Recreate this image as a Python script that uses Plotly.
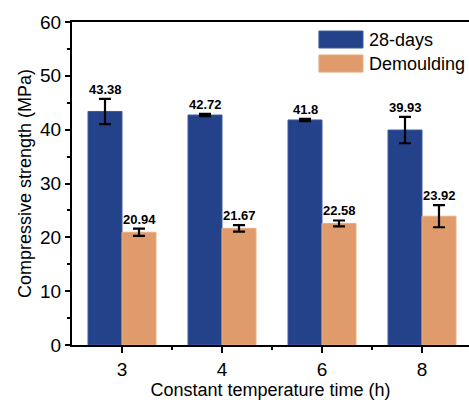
import plotly.graph_objects as go

# Constant temperature time (h)
categories = ["3", "4", "6", "8"]

# Compressive strength (MPa) and standard deviations
strength_28d = [43.38, 42.72, 41.8, 39.93]
error_28d = [2.35, 0.2, 0.2, 2.45]
strength_demould = [20.94, 21.67, 22.58, 23.92]
error_demould = [0.68, 0.6, 0.55, 2.05]

series_names = ["28-days", "Demoulding"]
colors = ["#244289", "#DF9B6B"]
edge_colors = ["#3C5AA0", "#E8AD82"]

FONT = "Arial, Liberation Sans, sans-serif"
xpos = list(range(len(categories)))

fig = go.Figure()
for name, vals, errs, col, edge in [
    (series_names[0], strength_28d, error_28d, colors[0], edge_colors[0]),
    (series_names[1], strength_demould, error_demould, colors[1], edge_colors[1]),
]:
    fig.add_trace(go.Bar(
        x=xpos, y=vals, name=name,
        marker=dict(color=col, line=dict(color=edge, width=1)),
        error_y=dict(type="data", array=errs, visible=True,
                     color="black", thickness=2.2, width=6),
        showlegend=False,
    ))

# Value labels above each error bar
annotations = []
offsets = [-0.17, 0.17]
for k, (vals, errs) in enumerate([(strength_28d, error_28d),
                                   (strength_demould, error_demould)]):
    for i, (v, e) in enumerate(zip(vals, errs)):
        annotations.append(dict(
            x=xpos[i] + offsets[k], y=v + e, xref="x", yref="y",
            text=f"<b>{v:g}</b>", showarrow=False, yanchor="bottom",
            xanchor="center", yshift=0,
            font=dict(family=FONT, size=13, color="black"),
        ))

# Legend drawn as large swatches with labels
legend_rows = [(0.972, 0.9195), (0.898, 0.845)]
shapes = []
for (y1, y0), col, edge, name in zip(legend_rows, colors, edge_colors, series_names):
    shapes.append(dict(type="rect", xref="paper", yref="paper",
                       x0=0.622, x1=0.733, y0=y0, y1=y1,
                       fillcolor=col, line=dict(color=edge, width=1)))
    annotations.append(dict(x=0.743, y=(y0 + y1) / 2, xref="paper", yref="paper",
                            text=name, showarrow=False, xanchor="left",
                            yanchor="middle",
                            font=dict(family=FONT, size=18, color="black")))

fig.update_layout(
    width=469, height=400,
    margin=dict(l=72, r=0, t=22, b=55),
    paper_bgcolor="white", plot_bgcolor="white",
    barmode="group", bargap=0.32, bargroupgap=0,
    font=dict(family=FONT, color="black"),
    shapes=shapes, annotations=annotations,
    xaxis=dict(
        range=[-0.5, 3.47],
        tickmode="array", tickvals=xpos, ticktext=categories,
        showline=True, linecolor="black", linewidth=2, mirror=True,
        ticks="outside", ticklen=6, tickwidth=2, tickcolor="black",
        minor=dict(tickmode="array", tickvals=[x + 0.5 for x in xpos[:-1]],
                   ticks="outside", ticklen=3, tickwidth=2, tickcolor="black"),
        showgrid=False, zeroline=False,
        tickfont=dict(family=FONT, size=19, color="black"),
        title=dict(text="Constant temperature time (h)",
                   font=dict(family=FONT, size=18, color="black"), standoff=2),
    ),
    yaxis=dict(
        range=[0, 60], dtick=10, tick0=0,
        showline=True, linecolor="black", linewidth=2,
        ticks="outside", ticklen=5, tickwidth=2, tickcolor="black",
        minor=dict(dtick=5, ticks="outside", ticklen=3, tickwidth=2, tickcolor="black"),
        showgrid=False, zeroline=False,
        tickfont=dict(family=FONT, size=19, color="black"),
        title=dict(text="Compressive strength (MPa)",
                   font=dict(family=FONT, size=18, color="black"), standoff=4),
    ),
)

fig.write_html("out.html")
